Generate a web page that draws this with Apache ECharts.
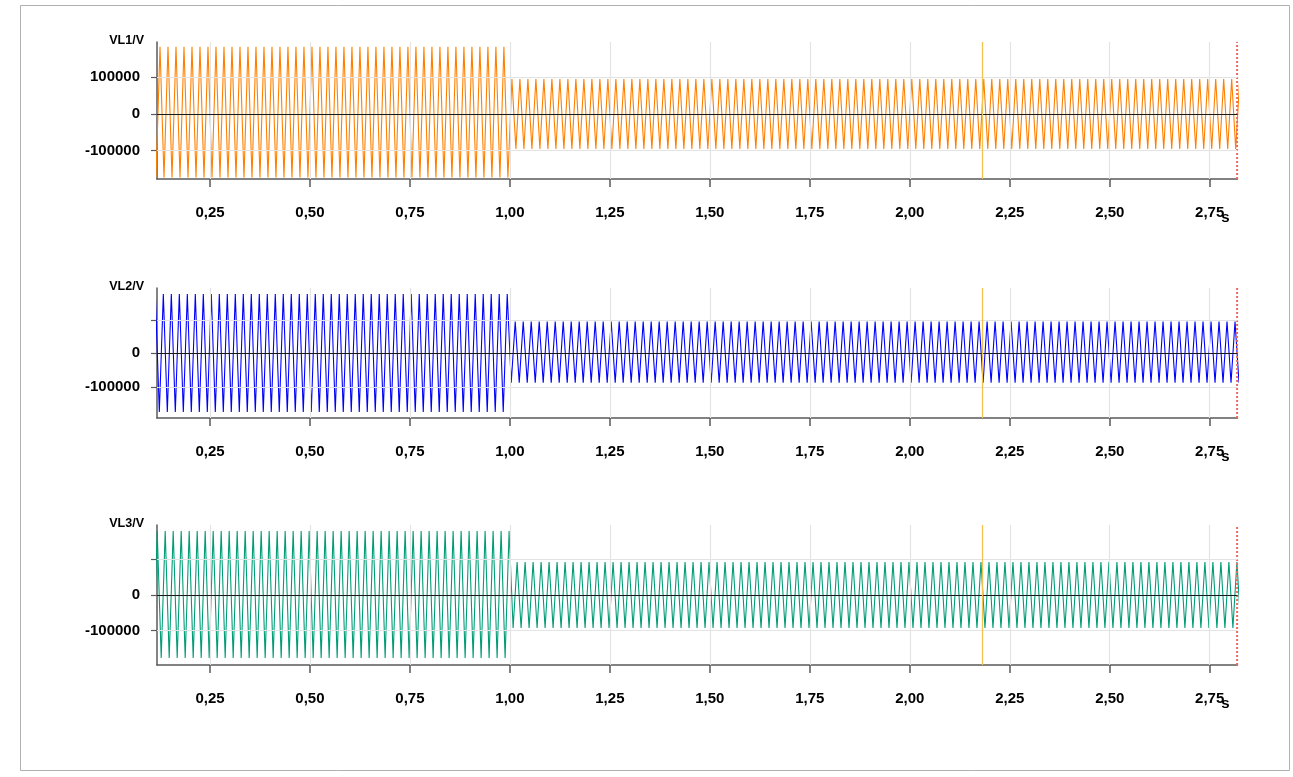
<!DOCTYPE html>
<html>
<head>
<meta charset="utf-8">
<script src="https://cdn.jsdelivr.net/npm/echarts@6/dist/echarts.min.js"></script>
<style>
html,body{margin:0;padding:0;background:#ffffff;}
#chart{width:1293px;height:777px;}
</style>
</head>
<body>
<div id="chart"></div>
<script>
// ---------- data ----------
const xTickValues = [0.25, 0.50, 0.75, 1.00, 1.25, 1.50, 1.75, 2.00, 2.25, 2.50, 2.75];
const yTickValues = [-100000, 0, 100000];
const yLabelValuesTop = [-100000, 0, 100000];
const yLabelValuesLower = [-100000, 0];
const panelNames = ['VL1/V', 'VL2/V', 'VL3/V'];
const xUnit = 's';
const xRange = [0.1175, 2.8195];
const yRanges = [[-177000, 196000], [-193000, 195000], [-197000, 197000]];
const cursorTime = 2.18;
const endMarkerTime = 2.8185;
const sampleStep = 0.01;           // time between successive peak / trough samples (s)
const vl1Start = 0.115;
const vl2Start = 0.1133;
const vl3Start = 0.108;

// VL1 peak/trough samples, before the switch at 1.0 s
const vl1Before = [
-173000, 183000, -173000, 183000, -173000, 183000, -173000, 183000, -173000, 183000,
-173000, 183000, -173000, 183000, -173000, 183000, -173000, 183000, -173000, 183000,
-173000, 183000, -173000, 183000, -173000, 183000, -173000, 183000, -173000, 183000,
-173000, 183000, -173000, 183000, -173000, 183000, -173000, 183000, -173000, 183000,
-173000, 183000, -173000, 183000, -173000, 183000, -173000, 183000, -173000, 183000,
-173000, 183000, -173000, 183000, -173000, 183000, -173000, 183000, -173000, 183000,
-173000, 183000, -173000, 183000, -173000, 183000, -173000, 183000, -173000, 183000,
-173000, 183000, -173000, 183000, -173000, 183000, -173000, 183000, -173000, 183000,
-173000, 183000, -173000, 183000, -173000, 183000, -173000, 183000, -173000
];
// VL1 after the switch
const vl1After = [
95000, -95000, 95000, -95000, 95000, -95000, 95000, -95000, 95000, -95000,
95000, -95000, 95000, -95000, 95000, -95000, 95000, -95000, 95000, -95000,
95000, -95000, 95000, -95000, 95000, -95000, 95000, -95000, 95000, -95000,
95000, -95000, 95000, -95000, 95000, -95000, 95000, -95000, 95000, -95000,
95000, -95000, 95000, -95000, 95000, -95000, 95000, -95000, 95000, -95000,
95000, -95000, 95000, -95000, 95000, -95000, 95000, -95000, 95000, -95000,
95000, -95000, 95000, -95000, 95000, -95000, 95000, -95000, 95000, -95000,
95000, -95000, 95000, -95000, 95000, -95000, 95000, -95000, 95000, -95000,
95000, -95000, 95000, -95000, 95000, -95000, 95000, -95000, 95000, -95000,
95000, -95000, 95000, -95000, 95000, -95000, 95000, -95000, 95000, -95000,
95000, -95000, 95000, -95000, 95000, -95000, 95000, -95000, 95000, -95000,
95000, -95000, 95000, -95000, 95000, -95000, 95000, -95000, 95000, -95000,
95000, -95000, 95000, -95000, 95000, -95000, 95000, -95000, 95000, -95000,
95000, -95000, 95000, -95000, 95000, -95000, 95000, -95000, 95000, -95000,
95000, -95000, 95000, -95000, 95000, -95000, 95000, -95000, 95000, -95000,
95000, -95000, 95000, -95000, 95000, -95000, 95000, -95000, 95000, -95000,
95000, -95000, 95000, -95000, 95000, -95000, 95000, -95000, 95000, -95000,
95000, -95000, 95000, -95000, 95000, -95000, 95000, -95000, 95000, -95000,
95000, -95000, 95000
];

// VL2
const vl2Before = [
177000, -175000, 177000, -175000, 177000, -175000, 177000, -175000, 177000, -175000,
177000, -175000, 177000, -175000, 177000, -175000, 177000, -175000, 177000, -175000,
177000, -175000, 177000, -175000, 177000, -175000, 177000, -175000, 177000, -175000,
177000, -175000, 177000, -175000, 177000, -175000, 177000, -175000, 177000, -175000,
177000, -175000, 177000, -175000, 177000, -175000, 177000, -175000, 177000, -175000,
177000, -175000, 177000, -175000, 177000, -175000, 177000, -175000, 177000, -175000,
177000, -175000, 177000, -175000, 177000, -175000, 177000, -175000, 177000, -175000,
177000, -175000, 177000, -175000, 177000, -175000, 177000, -175000, 177000, -175000,
177000, -175000, 177000, -175000, 177000, -175000, 177000, -175000, 177000
];
const vl2After = [
-88000, 95000, -88000, 95000, -88000, 95000, -88000, 95000, -88000, 95000,
-88000, 95000, -88000, 95000, -88000, 95000, -88000, 95000, -88000, 95000,
-88000, 95000, -88000, 95000, -88000, 95000, -88000, 95000, -88000, 95000,
-88000, 95000, -88000, 95000, -88000, 95000, -88000, 95000, -88000, 95000,
-88000, 95000, -88000, 95000, -88000, 95000, -88000, 95000, -88000, 95000,
-88000, 95000, -88000, 95000, -88000, 95000, -88000, 95000, -88000, 95000,
-88000, 95000, -88000, 95000, -88000, 95000, -88000, 95000, -88000, 95000,
-88000, 95000, -88000, 95000, -88000, 95000, -88000, 95000, -88000, 95000,
-88000, 95000, -88000, 95000, -88000, 95000, -88000, 95000, -88000, 95000,
-88000, 95000, -88000, 95000, -88000, 95000, -88000, 95000, -88000, 95000,
-88000, 95000, -88000, 95000, -88000, 95000, -88000, 95000, -88000, 95000,
-88000, 95000, -88000, 95000, -88000, 95000, -88000, 95000, -88000, 95000,
-88000, 95000, -88000, 95000, -88000, 95000, -88000, 95000, -88000, 95000,
-88000, 95000, -88000, 95000, -88000, 95000, -88000, 95000, -88000, 95000,
-88000, 95000, -88000, 95000, -88000, 95000, -88000, 95000, -88000, 95000,
-88000, 95000, -88000, 95000, -88000, 95000, -88000, 95000, -88000, 95000,
-88000, 95000, -88000, 95000, -88000, 95000, -88000, 95000, -88000, 95000,
-88000, 95000, -88000, 95000, -88000, 95000, -88000, 95000, -88000, 95000,
-88000, 95000, -88000
];

// VL3
const vl3Before = [
-177000, 180000, -177000, 180000, -177000, 180000, -177000, 180000, -177000, 180000,
-177000, 180000, -177000, 180000, -177000, 180000, -177000, 180000, -177000, 180000,
-177000, 180000, -177000, 180000, -177000, 180000, -177000, 180000, -177000, 180000,
-177000, 180000, -177000, 180000, -177000, 180000, -177000, 180000, -177000, 180000,
-177000, 180000, -177000, 180000, -177000, 180000, -177000, 180000, -177000, 180000,
-177000, 180000, -177000, 180000, -177000, 180000, -177000, 180000, -177000, 180000,
-177000, 180000, -177000, 180000, -177000, 180000, -177000, 180000, -177000, 180000,
-177000, 180000, -177000, 180000, -177000, 180000, -177000, 180000, -177000, 180000,
-177000, 180000, -177000, 180000, -177000, 180000, -177000, 180000, -177000, 180000
];
const vl3After = [
-93000, 93000, -93000, 93000, -93000, 93000, -93000, 93000, -93000, 93000,
-93000, 93000, -93000, 93000, -93000, 93000, -93000, 93000, -93000, 93000,
-93000, 93000, -93000, 93000, -93000, 93000, -93000, 93000, -93000, 93000,
-93000, 93000, -93000, 93000, -93000, 93000, -93000, 93000, -93000, 93000,
-93000, 93000, -93000, 93000, -93000, 93000, -93000, 93000, -93000, 93000,
-93000, 93000, -93000, 93000, -93000, 93000, -93000, 93000, -93000, 93000,
-93000, 93000, -93000, 93000, -93000, 93000, -93000, 93000, -93000, 93000,
-93000, 93000, -93000, 93000, -93000, 93000, -93000, 93000, -93000, 93000,
-93000, 93000, -93000, 93000, -93000, 93000, -93000, 93000, -93000, 93000,
-93000, 93000, -93000, 93000, -93000, 93000, -93000, 93000, -93000, 93000,
-93000, 93000, -93000, 93000, -93000, 93000, -93000, 93000, -93000, 93000,
-93000, 93000, -93000, 93000, -93000, 93000, -93000, 93000, -93000, 93000,
-93000, 93000, -93000, 93000, -93000, 93000, -93000, 93000, -93000, 93000,
-93000, 93000, -93000, 93000, -93000, 93000, -93000, 93000, -93000, 93000,
-93000, 93000, -93000, 93000, -93000, 93000, -93000, 93000, -93000, 93000,
-93000, 93000, -93000, 93000, -93000, 93000, -93000, 93000, -93000, 93000,
-93000, 93000, -93000, 93000, -93000, 93000, -93000, 93000, -93000, 93000,
-93000, 93000, -93000, 93000, -93000, 93000, -93000, 93000, -93000, 93000,
-93000, 93000, -93000
];

// ---------- build chart ----------
function toPairs(start, values) {
  return values.map((v, i) => [+(start + i * sampleStep).toFixed(4), v]);
}
const waves = [
  toPairs(vl1Start, vl1Before.concat(vl1After)),
  toPairs(vl2Start, vl2Before.concat(vl2After)),
  toPairs(vl3Start, vl3Before.concat(vl3After))
];
const waveColors = ['#ff8000', '#0000ff', '#009c78'];
const FONT = "'Liberation Sans', Arial, sans-serif";

const grids = [
  {left: 157, width: 1080.5, top: 42, height: 137},
  {left: 157, width: 1080.5, top: 288, height: 130},
  {left: 157, width: 1080.5, top: 525, height: 140}
];

const xAxes = grids.map((g, i) => ({
  type: 'value', gridIndex: i, min: xRange[0], max: xRange[1],
  name: xUnit, nameLocation: 'end', nameGap: -8, nameMoveOverlap: false,
  nameTextStyle: {fontFamily: FONT, fontWeight: 'bold', fontSize: 15, color: '#000',
                  align: 'right', verticalAlign: 'top', padding: [31, 0, 0, 0]},
  axisLine: {show: true, onZero: false, lineStyle: {color: '#5a5a5a', width: 1.5}},
  axisTick: {show: true, customValues: xTickValues, length: 8, inside: false,
             lineStyle: {color: '#5a5a5a', width: 1.5}},
  axisLabel: {show: true, customValues: xTickValues, margin: 26,
              fontFamily: FONT, fontWeight: 'bold', fontSize: 15, color: '#000',
              formatter: v => v.toFixed(2).replace('.', ',')},
  splitLine: {show: false}
}));

const yAxes = grids.map((g, i) => ({
  type: 'value', gridIndex: i, min: yRanges[i][0], max: yRanges[i][1],
  name: panelNames[i], nameLocation: 'end', nameGap: 1,
  nameTextStyle: {fontFamily: FONT, fontWeight: 'bold', fontSize: 12.5, color: '#000',
                  align: 'right', verticalAlign: 'middle', padding: [0, 13, 0, 0]},
  axisLine: {show: true, lineStyle: {color: '#5a5a5a', width: 1.5}},
  axisTick: {show: true, customValues: yTickValues, length: 6, inside: false,
             lineStyle: {color: '#5a5a5a', width: 1.2}},
  axisLabel: {show: true, customValues: i === 0 ? yLabelValuesTop : yLabelValuesLower,
              margin: 17, fontFamily: FONT, fontWeight: 'bold', fontSize: 15, color: '#000',
              formatter: v => String(v)},
  splitLine: {show: false}
}));

const series = [];
grids.forEach((g, i) => {
  // grid lines (behind the waveform)
  series.push({
    type: 'line', xAxisIndex: i, yAxisIndex: i, data: [], z: 1, silent: true,
    markLine: {
      silent: true, symbol: ['none', 'none'], label: {show: false}, animation: false,
      lineStyle: {color: '#e3e3e3', width: 1.2, type: 'solid'},
      data: xTickValues.map(v => ({xAxis: v}))
        .concat(yTickValues.filter(v => v !== 0).map(v => ({yAxis: v})))
    }
  });
  // waveform
  series.push({
    type: 'line', xAxisIndex: i, yAxisIndex: i, data: waves[i], z: 2,
    showSymbol: false, symbol: 'none', silent: true, clip: true,
    lineStyle: {color: waveColors[i], width: 1.1},
    emphasis: {disabled: true}
  });
  // zero line and cursor (above the waveform)
  series.push({
    type: 'line', xAxisIndex: i, yAxisIndex: i, data: [], z: 3, silent: true,
    markLine: {
      silent: true, symbol: ['none', 'none'], label: {show: false}, animation: false,
      data: [
        {yAxis: 0, lineStyle: {color: '#1a1a1a', width: 1.2, type: 'solid'}},
        {xAxis: cursorTime, lineStyle: {color: '#f2c24e', width: 1.3, type: 'solid'}}
      ]
    }
  });
  // end-of-record marker (red dotted vertical line across the full axis range)
  series.push({
    type: 'line', xAxisIndex: i, yAxisIndex: i, z: 4, silent: true, clip: false,
    showSymbol: false, symbol: 'none',
    data: [[endMarkerTime, yRanges[i][0]], [endMarkerTime, yRanges[i][1]]],
    lineStyle: {color: '#ee6a5a', width: 2, type: [2, 2]},
    emphasis: {disabled: true}
  });
});

const chart = echarts.init(document.getElementById('chart'), null, {renderer: 'canvas'});
chart.setOption({
  animation: false,
  backgroundColor: '#ffffff',
  grid: grids,
  xAxis: xAxes,
  yAxis: yAxes,
  series: series,
  graphic: [{
    type: 'rect', silent: true, z: 0,
    shape: {x: 20.5, y: 5.5, width: 1269, height: 765},
    style: {fill: 'none', stroke: '#b0b0b0', lineWidth: 1}
  }]
});
</script>
</body>
</html>
